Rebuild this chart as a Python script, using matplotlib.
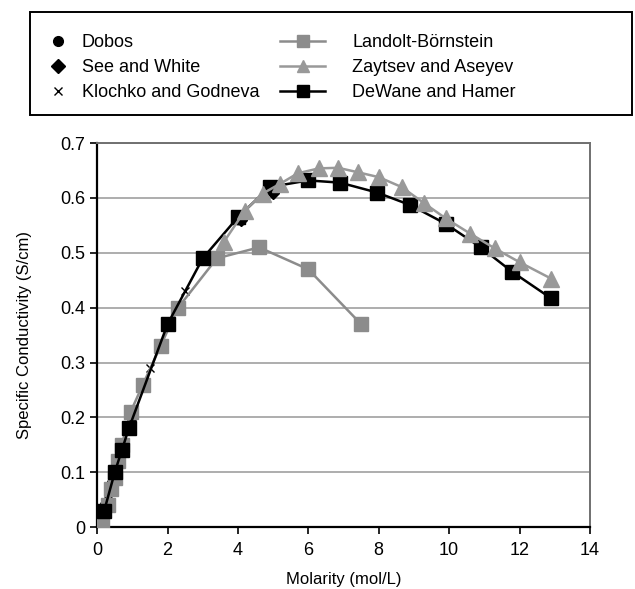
import matplotlib
matplotlib.use('Agg')
import matplotlib.pyplot as plt
from matplotlib.lines import Line2D
from matplotlib.patches import Rectangle

plt.rcParams['font.family'] = ['Liberation Sans', 'DejaVu Sans']

# Data
dobos_x = [0.2, 0.4, 0.6, 1.0, 2.0, 3.0, 4.0]
dobos_y = [0.04, 0.08, 0.12, 0.20, 0.37, 0.49, 0.56]

see_x = [0.5, 1.0, 2.0, 3.0, 4.1, 5.0]
see_y = [0.10, 0.20, 0.37, 0.49, 0.56, 0.61]

klochko_x = [0.3, 0.6, 0.9, 1.5, 2.5]
klochko_y = [0.06, 0.12, 0.18, 0.29, 0.43]

landolt_x = [0.15, 0.3, 0.4, 0.5, 0.6, 0.7, 0.95, 1.3, 1.8, 2.3, 3.4, 4.6, 6.0, 7.5]
landolt_y = [0.01, 0.04, 0.07, 0.09, 0.12, 0.15, 0.21, 0.26, 0.33, 0.40, 0.49, 0.51, 0.47, 0.37]

zaytsev_x = [3.6, 4.2, 4.7, 5.2, 5.7, 6.3, 6.85, 7.4, 8.0, 8.65, 9.3, 9.9, 10.6, 11.3, 12.0, 12.9]
zaytsev_y = [0.52, 0.577, 0.608, 0.626, 0.645, 0.654, 0.655, 0.647, 0.638, 0.62, 0.59, 0.563, 0.535, 0.508, 0.483, 0.453]

dewane_x = [0.2, 0.5, 0.7, 0.9, 2.0, 3.0, 4.0, 4.9, 6.0, 6.9, 7.95, 8.9, 9.9, 10.9, 11.8, 12.9]
dewane_y = [0.03, 0.10, 0.14, 0.18, 0.37, 0.49, 0.565, 0.62, 0.632, 0.628, 0.61, 0.587, 0.553, 0.51, 0.465, 0.417]

x_ticks = [0, 2, 4, 6, 8, 10, 12, 14]
y_ticks = [0, 0.1, 0.2, 0.3, 0.4, 0.5, 0.6, 0.7]
y_labels = ['0', '0.1', '0.2', '0.3', '0.4', '0.5', '0.6', '0.7']

GRAY = '#8c8c8c'
TRI_GRAY = '#999999'

fig = plt.figure(figsize=(6.35, 5.89), dpi=100)
ax = fig.add_axes([0.153, 0.105, 0.776, 0.652])

ax.plot(landolt_x, landolt_y, color=GRAY, marker='s', markersize=10, lw=1.8, zorder=3)
ax.plot(zaytsev_x, zaytsev_y, color=TRI_GRAY, marker='^', markersize=11, lw=1.8, zorder=5)
ax.plot(dewane_x, dewane_y, color='black', marker='s', markersize=10, lw=1.8, zorder=4)
ax.plot(dobos_x, dobos_y, ls='none', color='black', marker='o', markersize=6, zorder=2)
ax.plot(see_x, see_y, ls='none', color='black', marker='D', markersize=6, zorder=2)
ax.plot(klochko_x, klochko_y, ls='none', color='black', marker='x', markersize=6, zorder=2)

ax.set_xlim(0, 14)
ax.set_ylim(0, 0.7)
ax.set_xticks(x_ticks)
ax.set_yticks(y_ticks)
ax.set_yticklabels(y_labels)
ax.tick_params(labelsize=13, direction='out', length=5, width=1.2, colors='black')
ax.tick_params(axis='x', pad=6)
ax.grid(True, axis='y', color='#a0a0a0', lw=1.2)
ax.set_axisbelow(True)
for side in ['left', 'bottom']:
    ax.spines[side].set_linewidth(1.6)
for side in ['top', 'right']:
    ax.spines[side].set_color('#707070')
    ax.spines[side].set_linewidth(1.4)

ax.set_xlabel('Molarity (mol/L)', fontsize=12, labelpad=9)
ax.set_ylabel('Specific Conductivity (S/cm)', fontsize=12, labelpad=20)

# legend: one box, two columns laid out separately
fig.add_artist(Rectangle((0.047, 0.805), 0.948, 0.175, transform=fig.transFigure,
                         fill=False, edgecolor='black', lw=1.4))

left_handles = [
    Line2D([], [], ls='none', marker='o', color='black', markersize=7),
    Line2D([], [], ls='none', marker='D', color='black', markersize=7),
    Line2D([], [], ls='none', marker='x', color='black', markersize=6),
]
left_labels = ['Dobos', 'See and White', 'Klochko and Godneva']
right_handles = [
    Line2D([], [], color=GRAY, marker='s', markersize=8, lw=1.8),
    Line2D([], [], color=TRI_GRAY, marker='^', markersize=8, lw=1.8),
    Line2D([], [], color='black', marker='s', markersize=8, lw=1.8),
]
right_labels = ['Landolt-Börnstein', 'Zaytsev and Aseyev', 'DeWane and Hamer']

leg1 = fig.legend(left_handles, left_labels, loc='upper left',
                  bbox_to_anchor=(0.063, 0.942), frameon=False, fontsize=13,
                  handlelength=2.0, handletextpad=0.3, labelspacing=0.45,
                  borderpad=0, borderaxespad=0)
leg2 = fig.legend(right_handles, right_labels, loc='upper left',
                  bbox_to_anchor=(0.441, 0.942), frameon=False, fontsize=13,
                  handlelength=2.5, handletextpad=1.5, labelspacing=0.45,
                  borderpad=0, borderaxespad=0)

fig.savefig('out.png', dpi=100)
